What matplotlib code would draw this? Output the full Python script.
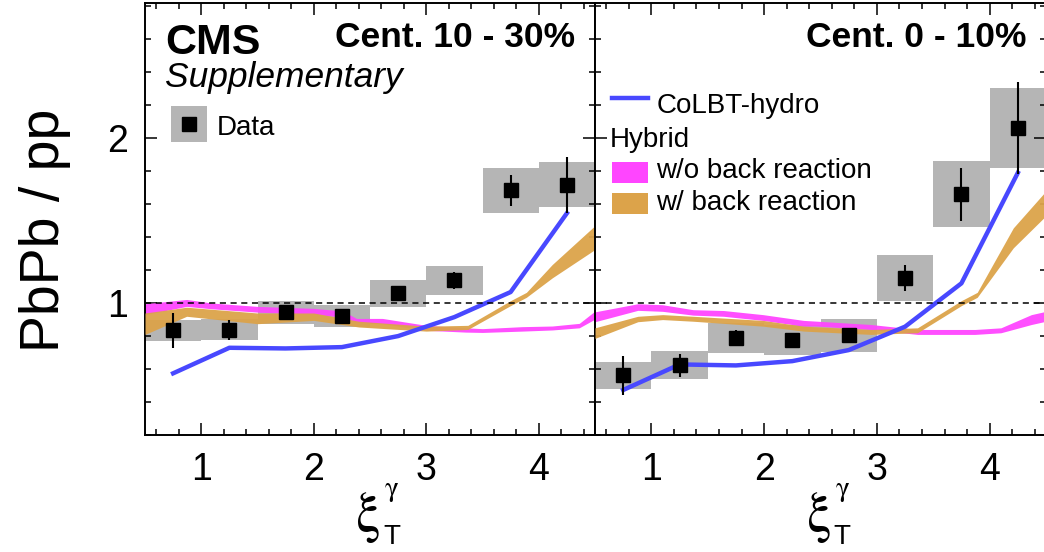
import matplotlib.pyplot as plt
from matplotlib.patches import Rectangle
from matplotlib.ticker import MultipleLocator

plt.rcParams['font.family'] = ['Liberation Sans', 'DejaVu Sans']
plt.rcParams['mathtext.fontset'] = 'stix'

# bin centres and half widths
xbins = [0.75, 1.25, 1.75, 2.25, 2.75, 3.25, 3.75, 4.25]
xhalf = 0.25

# Cent. 10 - 30%
data_c1 = [0.834, 0.838, 0.943, 0.923, 1.059, 1.138, 1.683, 1.719]
stat_c1 = [0.105, 0.06, 0.045, 0.03, 0.03, 0.05, 0.095, 0.17]
sys_c1 = [0.063, 0.063, 0.069, 0.067, 0.081, 0.088, 0.135, 0.135]
colbt_c1 = [0.574, 0.729, 0.725, 0.733, 0.80, 0.915, 1.067, 1.545]
nobr_x_c1 = [0.5, 0.87, 1.1, 1.5, 2.0, 2.26, 2.38, 2.61, 3.0, 3.35, 3.5, 3.85, 4.12, 4.36, 4.5]
nobr_hi_c1 = [0.996, 1.022, 1.0, 0.98, 0.968, 0.952, 0.907, 0.907, 0.865, 0.85, 0.845, 0.857, 0.861, 0.877, 0.952]
nobr_lo_c1 = [0.93, 0.98, 0.965, 0.945, 0.931, 0.916, 0.88, 0.875, 0.835, 0.824, 0.822, 0.83, 0.837, 0.85, 0.903]
br_x_c1 = [0.5, 0.87, 1.5, 2.0, 2.4, 3.0, 3.37, 3.75, 3.89, 4.12, 4.5]
br_hi_c1 = [0.94, 0.975, 0.94, 0.94, 0.89, 0.86, 0.865, 1.015, 1.065, 1.234, 1.47]
br_lo_c1 = [0.81, 0.92, 0.875, 0.895, 0.855, 0.83, 0.84, 0.985, 1.035, 1.153, 1.325]

# Cent. 0 - 10%
data_c0 = [0.562, 0.624, 0.788, 0.776, 0.804, 1.153, 1.659, 2.062]
stat_c0 = [0.12, 0.07, 0.05, 0.045, 0.044, 0.08, 0.16, 0.28]
sys_c0 = [0.083, 0.087, 0.092, 0.09, 0.10, 0.14, 0.20, 0.24]
colbt_c0 = [0.473, 0.628, 0.622, 0.648, 0.715, 0.857, 1.12, 1.79]
nobr_x_c0 = [0.5, 0.88, 1.1, 1.37, 1.64, 1.99, 2.35, 2.45, 2.95, 3.36, 3.87, 4.1, 4.37, 4.5]
nobr_hi_c0 = [0.947, 0.996, 0.99, 0.96, 0.955, 0.93, 0.895, 0.891, 0.87, 0.84, 0.84, 0.85, 0.93, 0.95]
nobr_lo_c0 = [0.887, 0.956, 0.95, 0.927, 0.92, 0.895, 0.86, 0.861, 0.84, 0.81, 0.81, 0.82, 0.87, 0.89]
br_x_c0 = [0.5, 0.88, 1.1, 1.37, 1.99, 2.35, 2.95, 3.36, 3.75, 3.89, 4.21, 4.5]
br_hi_c0 = [0.85, 0.92, 0.93, 0.92, 0.895, 0.86, 0.84, 0.85, 1.015, 1.065, 1.456, 1.68]
br_lo_c0 = [0.786, 0.887, 0.90, 0.89, 0.86, 0.83, 0.81, 0.82, 0.985, 1.035, 1.335, 1.53]

gray = '#b5b5b5'
pink = '#ff45ff'
orange = '#dca34a'
blue = '#4848ff'

fig = plt.figure(figsize=(10.44, 5.52), dpi=100)
ax1 = fig.add_axes([145/1044, 117/552, 450/1044, 432/552])
ax2 = fig.add_axes([595/1044, 117/552, 451/1044, 432/552])


def panel(ax, data, stat, sys, colbt, nx, nhi, nlo, bx, bhi, blo, cent):
    for x, y, s in zip(xbins, data, sys):
        ax.add_patch(Rectangle((x - xhalf, y - s), 2*xhalf, 2*s,
                               facecolor=gray, edgecolor='none', zorder=1))
    ax.fill_between(nx, nlo, nhi, color=pink, alpha=0.95, lw=0, zorder=2)
    ax.fill_between(bx, blo, bhi, color=orange, alpha=0.95, lw=0, zorder=3)
    ax.plot(xbins, colbt, color=blue, lw=3.2, zorder=4)
    ax.axhline(1, color='black', lw=1.1, ls=(0, (4, 3)), zorder=5)
    ax.errorbar(xbins, data, yerr=stat, fmt='s', color='black', ms=9.5,
                elinewidth=1.5, capsize=0, zorder=6)

    ax.set_xlim(0.5, 4.5)
    ax.set_ylim(0.2, 2.82)
    ax.xaxis.set_major_locator(MultipleLocator(1))
    ax.xaxis.set_minor_locator(MultipleLocator(0.2))
    ax.yaxis.set_major_locator(MultipleLocator(1))
    ax.yaxis.set_minor_locator(MultipleLocator(0.2))
    ax.tick_params(which='both', direction='in', top=True, right=True,
                   width=1.1, labelsize=27)
    ax.tick_params(which='major', length=8.5, pad=12)
    ax.tick_params(which='minor', length=4.3)
    for sp in ax.spines.values():
        sp.set_linewidth(1.4)
    # x title: xi with gamma superscript and T subscript
    ax.text(0.495, -0.19, r'$\mathrm{\xi}$', transform=ax.transAxes,
            ha='center', va='center', fontsize=40)
    ax.text(0.548, -0.127, r'$\mathrm{\gamma}$', transform=ax.transAxes,
            ha='center', va='center', fontsize=21)
    ax.text(0.548, -0.235, 'T', transform=ax.transAxes,
            ha='center', va='center', fontsize=20)
    ax.text(0.956, 0.897, cent, transform=ax.transAxes, ha='right',
            va='baseline', fontsize=25.5, fontweight='bold')


panel(ax1, data_c1, stat_c1, sys_c1, colbt_c1, nobr_x_c1, nobr_hi_c1, nobr_lo_c1,
      br_x_c1, br_hi_c1, br_lo_c1, 'Cent. 10 - 30%')
panel(ax2, data_c0, stat_c0, sys_c0, colbt_c0, nobr_x_c0, nobr_hi_c0, nobr_lo_c0,
      br_x_c0, br_hi_c0, br_lo_c0, 'Cent. 0 - 10%')
ax2.set_yticklabels([])

fig.text(45/1044, 1 - 230/552, 'PbPb / pp', rotation=90, ha='center',
         va='center', fontsize=40)

# left panel labels
ax1.text(0.044, 0.883, 'CMS', transform=ax1.transAxes, fontsize=31,
         fontweight='bold', va='baseline')
ax1.text(0.044, 0.805, 'Supplementary', transform=ax1.transAxes, fontsize=25.5,
         style='italic', va='baseline')
ax1.add_patch(Rectangle((0.058, 0.678), 0.08, 0.084, transform=ax1.transAxes,
                        facecolor=gray, edgecolor='none'))
ax1.plot([0.098], [0.72], 's', color='black', ms=9.5, transform=ax1.transAxes)
ax1.text(0.16, 0.694, 'Data', transform=ax1.transAxes, fontsize=20, va='baseline')

# right panel legend
ax2.plot([0.038, 0.118], [0.78, 0.78], color=blue, lw=3.2, transform=ax2.transAxes)
ax2.text(0.136, 0.745, 'CoLBT-hydro', transform=ax2.transAxes, fontsize=20,
         va='baseline')
ax2.text(0.033, 0.667, 'Hybrid', transform=ax2.transAxes, fontsize=20,
         va='baseline')
ax2.add_patch(Rectangle((0.037, 0.584), 0.081, 0.049, transform=ax2.transAxes,
                        facecolor=pink, edgecolor='none'))
ax2.text(0.136, 0.594, 'w/o back reaction', transform=ax2.transAxes, fontsize=20,
         va='baseline')
ax2.add_patch(Rectangle((0.037, 0.512), 0.081, 0.049, transform=ax2.transAxes,
                        facecolor=orange, edgecolor='none'))
ax2.text(0.136, 0.521, 'w/ back reaction', transform=ax2.transAxes, fontsize=20,
         va='baseline')

fig.savefig('out.png', dpi=100)
